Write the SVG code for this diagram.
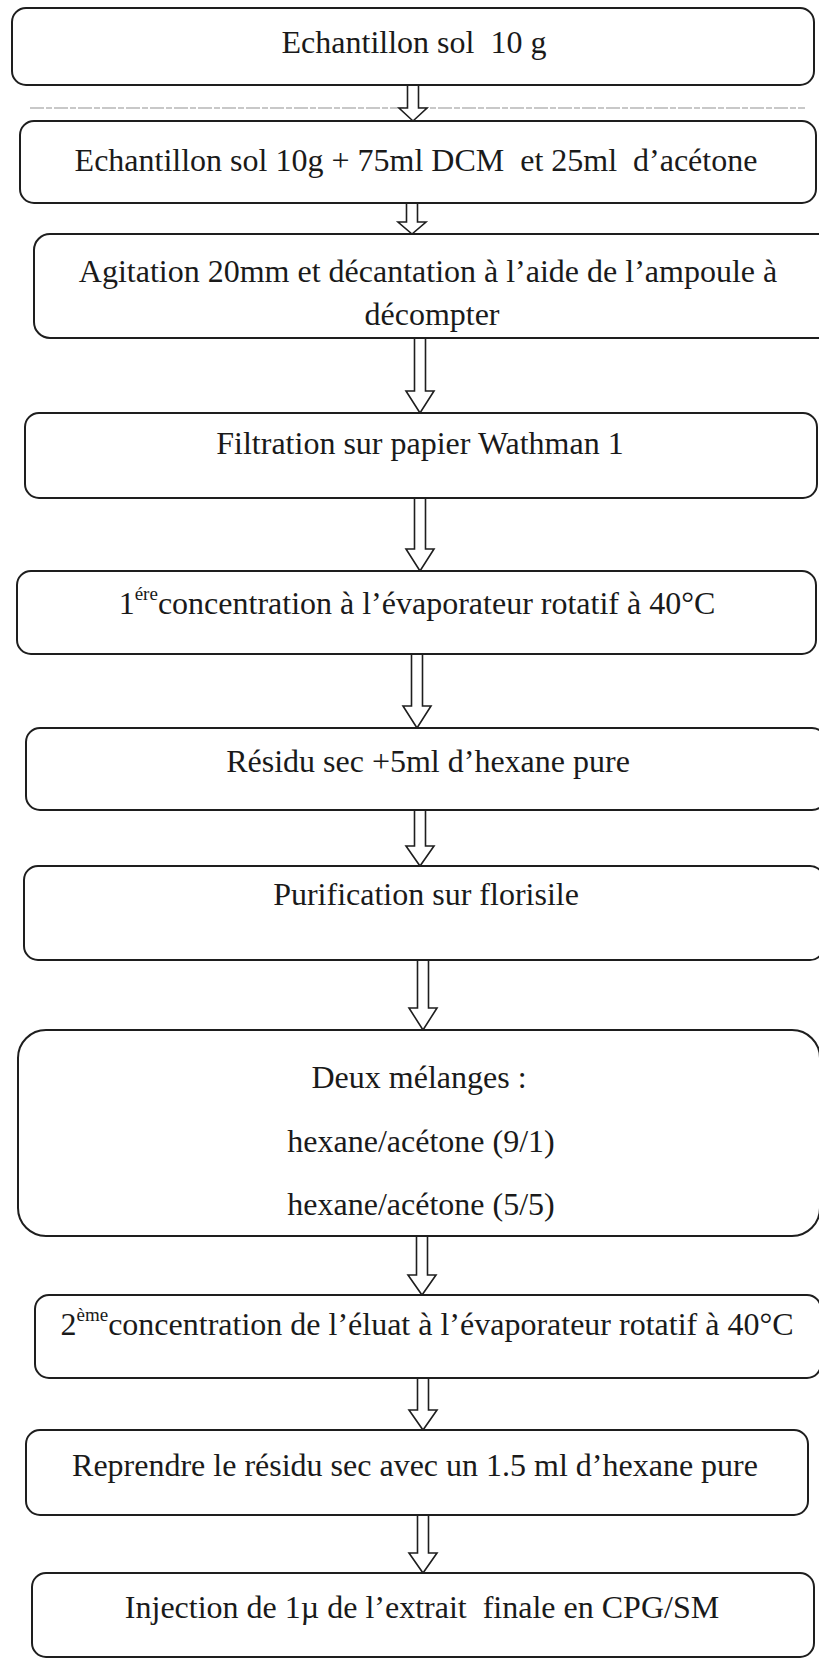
<svg xmlns="http://www.w3.org/2000/svg" width="819" height="1659" viewBox="0 0 819 1659">
<style>
.box{fill:#ffffff;stroke:#1e1e1e;stroke-width:2}
.t{font-family:"Liberation Serif","Times New Roman",serif;font-size:32px;fill:#1a1a1a;text-anchor:middle}
.sup{font-size:19px}
.arr{fill:#ffffff;stroke:#1e1e1e;stroke-width:1.6;stroke-linejoin:miter}
</style>
<rect x="0" y="0" width="819" height="1659" fill="#ffffff"/>
<line x1="30" y1="108" x2="805" y2="108" stroke="#c8c8c8" stroke-width="2" stroke-dasharray="14 2 6 2"/>
<g id="connectors">
<path class="arr" d="M407.5,85 V108 H399 L413,121 L427,108 H418.5 V85"/>
<path class="arr" d="M406.5,203 V222 H398 L412,234 L426,222 H417.5 V203"/>
<path class="arr" d="M414.5,338 V391 H406 L420,413 L434,391 H425.5 V338"/>
<path class="arr" d="M414.5,498 V549 H406 L420,571 L434,549 H425.5 V498"/>
<path class="arr" d="M411.5,654 V706 H403 L417,728 L431,706 H422.5 V654"/>
<path class="arr" d="M414.5,810 V846 H406 L420,866 L434,846 H425.5 V810"/>
<path class="arr" d="M417.5,960 V1008 H409 L423,1030 L437,1008 H428.5 V960"/>
<path class="arr" d="M416.5,1236 V1275 H408 L422,1295 L436,1275 H427.5 V1236"/>
<path class="arr" d="M417.5,1378 V1410 H409 L423,1430 L437,1410 H428.5 V1378"/>
<path class="arr" d="M417.5,1515 V1553 H409 L423,1573 L437,1553 H428.5 V1515"/>
</g>
<g id="n1">
<rect class="box" x="12" y="8" width="802" height="77" rx="14"/>
<text class="t" x="414" y="53" xml:space="preserve">Echantillon sol  10 g</text>
</g>
<g id="n2">
<rect class="box" x="20" y="121" width="796" height="82" rx="14"/>
<text class="t" x="416" y="171" xml:space="preserve">Echantillon sol 10g + 75ml DCM  et 25ml  d’acétone</text>
</g>
<g id="n3">
<rect class="box" x="34" y="234" width="800" height="104" rx="16"/>
<text class="t" x="428" y="282">Agitation 20mm et décantation à l’aide de l’ampoule à</text>
<text class="t" x="432" y="325">décompter</text>
</g>
<g id="n4">
<rect class="box" x="25" y="413" width="792" height="85" rx="14"/>
<text class="t" x="420" y="454">Filtration sur papier Wathman 1</text>
</g>
<g id="n5">
<rect class="box" x="17" y="571" width="799" height="83" rx="14"/>
<text class="t" x="417" y="614">1<tspan class="sup" dy="-14">ére</tspan><tspan dy="14">concentration à l’évaporateur rotatif à 40°C</tspan></text>
</g>
<g id="n6">
<rect class="box" x="26" y="728" width="800" height="82" rx="14"/>
<text class="t" x="428" y="772">Résidu sec +5ml d’hexane pure</text>
</g>
<g id="n7">
<rect class="box" x="24" y="866" width="800" height="94" rx="14"/>
<text class="t" x="426" y="905">Purification sur florisile</text>
</g>
<g id="n8">
<rect class="box" x="18" y="1030" width="802" height="206" rx="28"/>
<text class="t" x="419" y="1088">Deux mélanges :</text>
<text class="t" x="421" y="1152">hexane/acétone (9/1)</text>
<text class="t" x="421" y="1215">hexane/acétone (5/5)</text>
</g>
<g id="n9">
<rect class="box" x="35" y="1295" width="786" height="83" rx="14"/>
<text class="t" x="427" y="1335">2<tspan class="sup" dy="-14">ème</tspan><tspan dy="14">concentration de l’éluat à l’évaporateur rotatif à 40°C</tspan></text>
</g>
<g id="n10">
<rect class="box" x="26" y="1430" width="782" height="85" rx="14"/>
<text class="t" x="415" y="1476">Reprendre le résidu sec avec un 1.5 ml d’hexane pure</text>
</g>
<g id="n11">
<rect class="box" x="32" y="1573" width="782" height="84" rx="14"/>
<text class="t" x="422" y="1618" xml:space="preserve">Injection de 1µ de l’extrait  finale en CPG/SM</text>
</g>
</svg>
